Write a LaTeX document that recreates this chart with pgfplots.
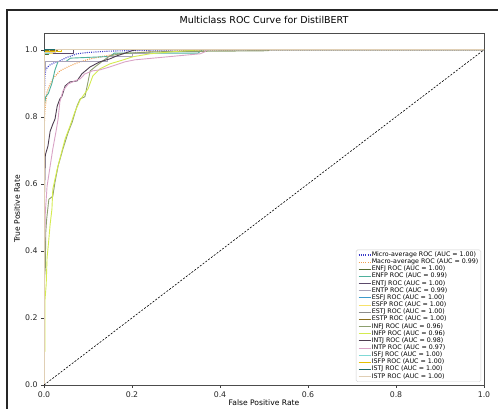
\documentclass[border=0pt]{standalone}
\usepackage{fontspec}
\setmainfont{DejaVu Sans}
\usepackage{pgfplots}
\pgfplotsset{compat=1.18}

\definecolor{cmicro}{HTML}{3B3BC8}
\definecolor{cmacro}{HTML}{F0A050}
\definecolor{cENFJ}{HTML}{556B2F}
\definecolor{cENFP}{HTML}{4FB09C}
\definecolor{cENTJ}{HTML}{5B4A6B}
\definecolor{cENTP}{HTML}{A8A3B8}
\definecolor{cESFJ}{HTML}{3D9BCC}
\definecolor{cESFP}{HTML}{F7E26B}
\definecolor{cESTJ}{HTML}{8C8C8C}
\definecolor{cESTP}{HTML}{8B6F1E}
\definecolor{cINFJ}{HTML}{8C9F6E}
\definecolor{cINFP}{HTML}{D4EB4F}
\definecolor{cINTJ}{HTML}{4D3D50}
\definecolor{cINTP}{HTML}{D9A3C6}
\definecolor{cISFJ}{HTML}{80D9D6}
\definecolor{cISFP}{HTML}{E6BF00}
\definecolor{cISTJ}{HTML}{1D6B6B}
\definecolor{cISTP}{HTML}{E0CFB5}

\begin{document}
\begin{tikzpicture}
\begin{axis}[
  scale only axis, width=440pt, height=352pt,
  xmin=0, xmax=1, ymin=0, ymax=1.05,
  xtick={0,0.2,...,1}, ytick={0,0.2,...,1},
  xticklabel style={/pgf/number format/.cd,fixed,fixed zerofill,precision=1},
  yticklabel style={/pgf/number format/.cd,fixed,fixed zerofill,precision=1},
  /pgf/number format/assume math mode=true,
  tick label style={font=\fontsize{7.8}{9}\selectfont, text=black!85},
  tick align=outside, major tick length=3pt,
  tick style={black!75, line width=0.5pt},
  axis line style={black!70, line width=0.6pt},
  xtick pos=bottom, ytick pos=left,
  title={Multiclass ROC Curve for DistilBERT},
  title style={font=\fontsize{9.5}{11}\selectfont, at={(axis description cs:0.5,1.0199)}, anchor=center},
  xlabel={False Positive Rate},
  ylabel={True Positive Rate},
  xlabel style={font=\fontsize{7.6}{9}\selectfont, at={(axis description cs:0.5,-0.051)}, anchor=center},
  ylabel style={font=\fontsize{7.6}{9}\selectfont, at={(axis description cs:-0.0614,0.5)}, anchor=center},
  legend cell align=left,
  legend style={at={(1,0)}, anchor=south east, xshift=-3pt, yshift=3pt,
    draw=black!18, fill=white, rounded corners=1.5pt,
    font=\fontsize{6.3}{7}\selectfont, inner sep=2pt,
    nodes={inner sep=0.5pt, text height=4.2pt, text depth=1.2pt},
    row sep=0.75pt},
  legend image code/.code={\draw[#1] (0pt,0pt) -- (12pt,0pt);},
  every axis plot/.append style={line width=0.9pt, line join=round},
]
\addplot[cmicro, dash pattern=on 1pt off 1.2pt, line width=1.1pt] coordinates {(0,0)(0,0.6)(0.001,0.85)(0.002,0.92)(0.004,0.94)(0.008,0.948)(0.014,0.955)(0.025,0.962)(0.036,0.967)(0.05,0.976)(0.075,0.988)(0.1,0.992)(0.15,0.996)(0.25,0.999)(0.35,1)(1,1)};
\addlegendentry{Micro-average ROC (AUC = 1.00)}
\addplot[cmacro, dash pattern=on 1pt off 1.2pt, line width=1.1pt] coordinates {(0,0)(0,0.75)(0.002,0.82)(0.007,0.874)(0.013,0.895)(0.02,0.913)(0.036,0.937)(0.059,0.952)(0.08,0.963)(0.105,0.973)(0.166,0.988)(0.24,0.994)(0.37,0.999)(0.51,1)(1,1)};
\addlegendentry{Macro-average ROC (AUC = 0.99)}
\addplot[cENFJ] coordinates {(0,0)(0,0.985)(0.01,0.985)(0.01,1)(1,1)};
\addlegendentry{ENFJ ROC (AUC = 1.00)}
\addplot[cENFP] coordinates {(0,0)(0,0.83)(0.004,0.86)(0.01,0.87)(0.018,0.9)(0.025,0.94)(0.032,0.965)(0.05,0.965)(0.06,0.975)(0.15,0.98)(0.16,0.99)(0.35,0.99)(0.36,1)(1,1)};
\addlegendentry{ENFP ROC (AUC = 0.99)}
\addplot[cENTJ] coordinates {(0,0)(0,0.99)(0.066,0.99)(0.066,1)(1,1)};
\addlegendentry{ENTJ ROC (AUC = 1.00)}
\addplot[cENTP] coordinates {(0,0)(0,0.94)(0.003,0.94)(0.003,0.965)(0.145,0.965)(0.145,0.98)(0.2,0.98)(0.2,0.99)(0.24,0.99)(0.24,1)(1,1)};
\addlegendentry{ENTP ROC (AUC = 0.99)}
\addplot[cESFJ] coordinates {(0,0)(0,0.995)(0.005,0.995)(0.005,1)(1,1)};
\addlegendentry{ESFJ ROC (AUC = 1.00)}
\addplot[cESFP] coordinates {(0,0)(0,0.99)(0.02,0.99)(0.02,1)(1,1)};
\addlegendentry{ESFP ROC (AUC = 1.00)}
\addplot[cESTJ] coordinates {(0,0)(0,1)(1,1)};
\addlegendentry{ESTJ ROC (AUC = 1.00)}
\addplot[cESTP] coordinates {(0,0)(0,0.997)(0.03,0.997)(0.03,1)(1,1)};
\addlegendentry{ESTP ROC (AUC = 1.00)}
\addplot[cINFJ] coordinates {(0,0)(0,0.3)(0.003,0.35)(0.004,0.455)(0.006,0.494)(0.011,0.554)(0.02,0.563)(0.025,0.605)(0.032,0.653)(0.043,0.704)(0.055,0.754)(0.064,0.784)(0.075,0.832)(0.082,0.853)(0.093,0.86)(0.1,0.904)(0.105,0.937)(0.116,0.949)(0.134,0.967)(0.15,0.982)(0.173,0.988)(0.25,0.994)(0.51,0.997)(0.51,1)(1,1)};
\addlegendentry{INFJ ROC (AUC = 0.96)}
\addplot[cINFP] coordinates {(0,0)(0,0.1)(0.002,0.1)(0.002,0.25)(0.005,0.3)(0.007,0.38)(0.01,0.42)(0.014,0.48)(0.018,0.524)(0.02,0.584)(0.03,0.644)(0.036,0.674)(0.048,0.734)(0.059,0.772)(0.07,0.814)(0.082,0.85)(0.1,0.883)(0.111,0.922)(0.127,0.943)(0.15,0.958)(0.173,0.967)(0.202,0.979)(0.241,0.988)(0.3,0.995)(0.36,1)(1,1)};
\addlegendentry{INFP ROC (AUC = 0.96)}
\addplot[cINTJ] coordinates {(0,0)(0,0.3)(0.001,0.56)(0.003,0.686)(0.009,0.713)(0.014,0.757)(0.02,0.778)(0.025,0.793)(0.03,0.832)(0.036,0.853)(0.041,0.862)(0.048,0.892)(0.059,0.904)(0.075,0.907)(0.086,0.928)(0.105,0.949)(0.127,0.964)(0.15,0.973)(0.166,0.982)(0.2,0.997)(0.21,1)(1,1)};
\addlegendentry{INTJ ROC (AUC = 0.98)}
\addplot[cINTP] coordinates {(0,0)(0,0.3)(0.003,0.515)(0.007,0.593)(0.014,0.653)(0.02,0.704)(0.027,0.754)(0.032,0.793)(0.036,0.844)(0.043,0.877)(0.055,0.898)(0.07,0.907)(0.082,0.913)(0.093,0.928)(0.11,0.937)(0.127,0.94)(0.15,0.949)(0.184,0.964)(0.207,0.97)(0.355,0.988)(0.366,0.994)(0.37,1)(1,1)};
\addlegendentry{INTP ROC (AUC = 0.97)}
\addplot[cISFJ] coordinates {(0,0)(0,0.99)(0.012,0.99)(0.012,1)(1,1)};
\addlegendentry{ISFJ ROC (AUC = 1.00)}
\addplot[cISFP] coordinates {(0,0)(0,0.995)(0.04,0.995)(0.04,1)(1,1)};
\addlegendentry{ISFP ROC (AUC = 1.00)}
\addplot[cISTJ] coordinates {(0,0)(0,1)(0.027,1)(1,1)};
\addlegendentry{ISTJ ROC (AUC = 1.00)}
\addplot[cISTP] coordinates {(0,0)(0,0.993)(0.027,0.993)(0.027,1)(1,1)};
\addlegendentry{ISTP ROC (AUC = 1.00)}
\addplot[black, line width=0.6pt, dash pattern=on 2pt off 1.5pt, forget plot] coordinates {(0,0)(1,1)};
\end{axis}
\draw[black!85, line width=1.6pt] (-37pt,-30pt) -- (-37pt,375pt) -- (460pt,375pt);
\pgfresetboundingbox
\useasboundingbox (-44pt,-24pt) rectangle (454pt,385pt);
\end{tikzpicture}
\end{document}
